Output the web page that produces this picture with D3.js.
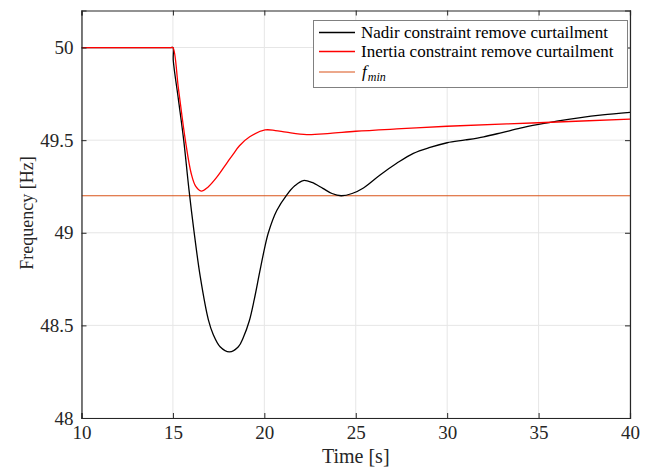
<!DOCTYPE html>
<html><head><meta charset="utf-8">
<script src="https://cdn.jsdelivr.net/npm/d3@7"></script>
<style>body{margin:0;background:#fff}svg{display:block}svg text{font-family:"Liberation Serif","DejaVu Serif",serif !important;}</style>
</head><body><svg id="c" width="648" height="467" style="font-family:'Liberation Serif','DejaVu Serif',serif"></svg>
<script>
const xTicks = [10, 15, 20, 25, 30, 35, 40];
const yTicks = [48, 48.5, 49, 49.5, 50];
const seriesNames = ["Nadir constraint remove curtailment", "Inertia constraint remove curtailment"];
const nadirT = [10, 14.9, 15, 15.02, 15.3, 15.59, 15.87, 16.15, 16.5, 16.94, 17.21, 17.58, 18.09, 18.58, 18.85, 19.18, 19.45, 19.75, 20.0, 20.22, 20.68, 21.23, 21.68, 22.13, 22.6, 23.2, 23.7, 24.2, 24.8, 25.42, 26.33, 27.24, 28.15, 29.06, 30, 31, 32, 33, 34, 35, 36, 37.3, 38.5, 40];
const nadirF = [50, 50, 50, 49.93, 49.72, 49.5, 49.24, 49.01, 48.76, 48.53, 48.45, 48.385, 48.357, 48.385, 48.435, 48.525, 48.64, 48.79, 48.91, 49.0, 49.12, 49.205, 49.255, 49.282, 49.272, 49.24, 49.212, 49.2, 49.212, 49.242, 49.312, 49.375, 49.429, 49.461, 49.486, 49.501, 49.518, 49.541, 49.565, 49.585, 49.603, 49.622, 49.636, 49.65];
const inertiaT = [10, 14.9, 15, 15.3, 15.68, 16.0, 16.25, 16.55, 16.9, 17.4, 17.94, 18.3, 18.64, 19.2, 20.04, 20.6, 21.2, 22.32, 23.6, 25, 27.5, 30, 35, 40];
const inertiaF = [50, 50, 50, 49.78, 49.5, 49.32, 49.25, 49.225, 49.245, 49.30, 49.375, 49.425, 49.47, 49.518, 49.555, 49.552, 49.543, 49.530, 49.537, 49.548, 49.562, 49.575, 49.594, 49.614];
const fmin = 49.2;

const FONT = "'Liberation Serif','DejaVu Serif',serif";
const svg = d3.select("#c");
const L = 81.5, R = 630, T = 10.5, B = 418;
const x = d3.scaleLinear().domain([10, 40]).range([L, R]);
const y = d3.scaleLinear().domain([48, 50.2]).range([B, T]);

// grid
svg.append("g").selectAll("line").data(xTicks).join("line")
  .attr("x1", d => x(d)).attr("x2", d => x(d)).attr("y1", T).attr("y2", B)
  .attr("stroke", "#e6e6e6").attr("stroke-width", 1);
svg.append("g").selectAll("line").data(yTicks).join("line")
  .attr("x1", L).attr("x2", R).attr("y1", d => y(d)).attr("y2", d => y(d))
  .attr("stroke", "#e6e6e6").attr("stroke-width", 1);

const line = d3.line().x(d => x(d[0])).y(d => y(d[1])).curve(d3.curveCatmullRom.alpha(0.5));
svg.append("clipPath").attr("id", "pc").append("rect").attr("x", L).attr("y", T).attr("width", R - L).attr("height", B - T);
const plot = svg.append("g").attr("clip-path", "url(#pc)");

plot.append("line").attr("x1", x(10)).attr("x2", x(40)).attr("y1", y(fmin)).attr("y2", y(fmin))
  .attr("stroke", "#D95319").attr("stroke-width", 1.2);
plot.append("path").datum(nadirT.map((t, i) => [t, nadirF[i]])).attr("d", line)
  .attr("fill", "none").attr("stroke", "#000").attr("stroke-width", 1.3);
plot.append("path").datum(inertiaT.map((t, i) => [t, inertiaF[i]])).attr("d", line)
  .attr("fill", "none").attr("stroke", "#ff0000").attr("stroke-width", 1.3);

// axes
const ax = "#262626";
const xb = svg.append("g").attr("transform", `translate(0,${B})`)
  .call(d3.axisBottom(x).tickValues(xTicks).tickSize(-5).tickPadding(8).tickFormat(d3.format("d")));
const xt = svg.append("g").attr("transform", `translate(0,${T})`)
  .call(d3.axisTop(x).tickValues(xTicks).tickSize(-5).tickFormat(""));
const yl = svg.append("g").attr("transform", `translate(${L},0)`)
  .call(d3.axisLeft(y).tickValues(yTicks).tickSize(-5).tickPadding(8).tickFormat(d => String(d)));
const yr = svg.append("g").attr("transform", `translate(${R},0)`)
  .call(d3.axisRight(y).tickValues(yTicks).tickSize(-5).tickFormat(""));
[xb, xt, yl, yr].forEach(g => {
  g.attr("font-family", FONT);
  g.select(".domain").attr("stroke", ax).attr("stroke-width", 1.2);
  g.selectAll(".tick line").attr("stroke", ax);
  g.selectAll("text").attr("font-family", FONT).attr("font-size", 19).attr("fill", ax);
});

svg.append("text").attr("x", (L + R) / 2).attr("y", 463).attr("text-anchor", "middle")
  .attr("font-family", FONT).attr("font-size", 20).attr("fill", ax).text("Time [s]");
svg.append("text").attr("transform", `translate(33,213) rotate(-90)`).attr("text-anchor", "middle")
  .attr("font-family", FONT).attr("font-size", 18).attr("fill", ax).text("Frequency [Hz]");

// legend
const lg = svg.append("g").attr("font-family", FONT);
lg.append("rect").attr("x", 313.5).attr("y", 20.5).attr("width", 314).attr("height", 67)
  .attr("fill", "#fff").attr("stroke", "#808080").attr("stroke-width", 1);
const legendColors = ["#000", "#ff0000", "#D95319"];
const rows = [32.5, 51.5, 72];
legendColors.forEach((c, i) => {
  lg.append("line").attr("x1", 319).attr("x2", 355).attr("y1", rows[i]).attr("y2", rows[i])
    .attr("stroke", c).attr("stroke-width", i === 2 ? 1.2 : 1.3);
});
seriesNames.forEach((s, i) => {
  lg.append("text").attr("x", 361).attr("y", rows[i] + 5).attr("font-size", 17).attr("fill", "#000").text(s);
});
const ft = lg.append("text").attr("x", 362).attr("y", rows[2] + 4.5).attr("font-size", 17).attr("fill", "#000");
ft.append("tspan").attr("font-style", "italic").text("f");
ft.append("tspan").attr("font-style", "italic").attr("font-size", 12).attr("dy", 4).attr("dx", 1).text("min");
</script></body></html>
